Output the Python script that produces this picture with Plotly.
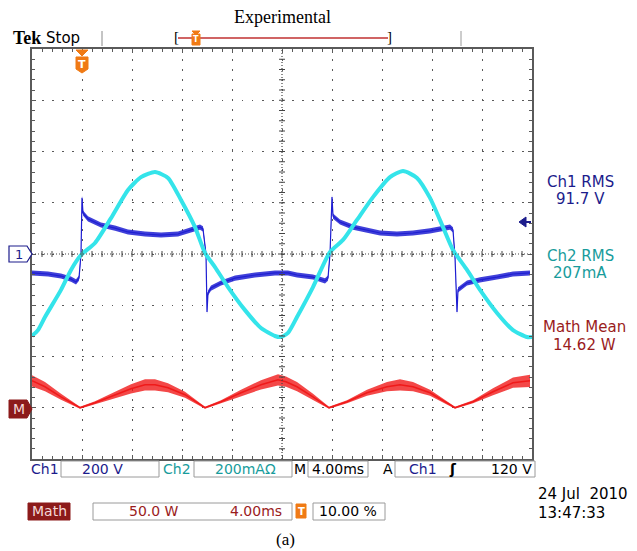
import plotly.graph_objects as go

# Ch2 (current, cyan) : time in ms, current in mA
ch2_t = [0.00, 0.48, 1.04, 2.32, 3.12, 3.92, 5.04, 6.32, 7.68, 8.72, 9.84, 10.88, 11.92, 13.04,
         13.84, 14.64, 15.68, 17.04, 18.32, 19.44, 19.92, 20.48, 21.20, 22.48, 23.84, 24.88,
         26.00, 27.28, 28.64, 29.68, 30.80, 31.84, 32.88, 33.68, 34.80, 35.84, 37.20, 38.48,
         39.60, 40.00]
ch2_ma = [-320, -297, -246, -140, -62, -4, 43, 140, 250, 300, 320, 297, 211, 105,
          4, -51, -129, -219, -289, -320, -324, -308, -246, -129, 8, 55,
          133, 222, 300, 324, 297, 219, 105, 16, -62, -140, -230, -297,
          -324, -324]

# Ch1 (voltage, blue) : time in ms, voltage in V
ch1_t = [0.00, 1.28, 2.32, 3.12, 3.52, 3.76, 3.92, 4.00, 4.08, 4.48, 5.52, 6.64, 7.68, 9.04,
         10.32, 11.68, 12.72, 13.44, 13.68, 13.92, 14.00, 14.08, 14.32, 15.12, 16.24, 17.84,
         19.44, 20.48, 21.20, 22.48, 23.44, 23.68, 23.84, 24.00, 24.08, 24.64, 25.68, 26.80,
         27.84, 29.20, 30.48, 31.84, 32.88, 33.44, 33.68, 33.84, 34.00, 34.08, 34.80, 35.84,
         37.20, 38.48, 39.84]
ch1_v = [-74, -78, -86, -98, -109, -94, 0, 219, 160, 137, 113, 101, 86, 78,
         74, 78, 94, 105, 98, 0, -226, -152, -133, -113, -94, -82,
         -74, -74, -82, -90, -105, -94, 0, 222, 148, 125, 105, 94,
         82, 78, 82, 90, 101, 105, 94, -12, -226, -140, -113, -101,
         -90, -78, -74]

# Math (power, red) : time in ms, power in W, and half-height of its ripple band in W
math_t = [0.00, 1.04, 2.32, 3.84, 5.04, 6.64, 7.92, 9.04, 9.84, 10.88, 12.24, 13.84, 15.12,
          16.72, 18.32, 19.68, 20.32, 21.20, 22.48, 23.76, 25.20, 26.80, 28.40, 29.44,
          30.48, 31.84, 33.84, 35.28, 36.88, 38.48, 39.84]
math_w = [26.3, 20.5, 10.7, 0.0, 4.9, 12.7, 18.5, 22.4, 22.4, 19.5, 12.7, 0.0, 5.9,
          14.6, 22.4, 27.3, 25.4, 20.5, 10.7, 0.0, 5.9, 14.6, 20.5, 22.4,
          20.5, 14.6, 0.0, 5.9, 15.6, 24.4, 26.3]
math_ripple = [5.5, 4.5, 3, 1, 1.5, 3, 4.5, 5.5, 5.5, 4.5, 3, 1, 1.5,
               3, 4.5, 5.5, 5, 4.5, 3, 1, 1.5, 3, 4.5, 5.5,
               4.5, 3, 1, 1.5, 3.5, 5, 6]

# scope settings / readouts
ch1_scale_v = 200      # V/div
ch2_scale_ma = 200     # mA/div
math_scale_w = 50      # W/div
time_scale_ms = 4.0    # ms/div
math_offset_div = -3   # math ground position in divisions
ch1_noise_v = 10       # half height of the noise band on Ch1

readouts = [("Ch1 RMS", "91.7 V"), ("Ch2 RMS", "207mA"), ("Math Mean", "14.62 W")]

# ---------------- styling ----------------
SCOPE = "DejaVu Sans, Verdana, sans-serif"
SERIF = "Liberation Serif, Times New Roman, serif"
NAVY = "#1c1c8c"
TEAL = "#189c9c"
DRED = "#9a1c1c"
ORANGE = "#f07a14"
BLUE = "#1e1ed2"
CYAN = "#34e4ea"
RED = "#f01a1a"
GRID = "#5a5a5a"

OFF = 8                       # default page (body) margin of the html page
L, R, T, B = 32, 532, 49, 459  # graticule edges in page pixels
W, H = 637, 551


def px(x):
    return (x - L) / (R - L)


def py(y):
    return (B - y) / (B - T)


ndiv_x, ndiv_y = 10, 8
xmax = ndiv_x * time_scale_ms
vmax = ndiv_y / 2 * ch1_scale_v
imax = ndiv_y / 2 * ch2_scale_ma
wmin = (-ndiv_y / 2 - math_offset_div) * math_scale_w
wmax = (ndiv_y / 2 - math_offset_div) * math_scale_w

fig = go.Figure()

# Ch2 current
fig.add_trace(go.Scatter(x=ch2_t, y=ch2_ma, yaxis="y2", mode="lines",
                         line=dict(color=CYAN, width=4, shape="spline", smoothing=0.6),
                         hoverinfo="skip", showlegend=False))

# Ch1 voltage: noise band + center line
fig.add_trace(go.Scatter(x=ch1_t, y=[v + ch1_noise_v for v in ch1_v], mode="lines",
                         line=dict(width=0, color=BLUE), hoverinfo="skip", showlegend=False))
fig.add_trace(go.Scatter(x=ch1_t, y=[v - ch1_noise_v for v in ch1_v], mode="lines",
                         line=dict(width=0, color=BLUE), fill="tonexty",
                         fillcolor="rgba(30,30,210,0.85)", hoverinfo="skip", showlegend=False))
fig.add_trace(go.Scatter(x=ch1_t, y=ch1_v, mode="lines",
                         line=dict(color=BLUE, width=1.2), hoverinfo="skip", showlegend=False))

# Math power: ripple band + center line
fig.add_trace(go.Scatter(x=math_t, y=[w + r for w, r in zip(math_w, math_ripple)], yaxis="y3",
                         mode="lines", line=dict(width=0, color=RED), hoverinfo="skip",
                         showlegend=False))
fig.add_trace(go.Scatter(x=math_t, y=[w - r for w, r in zip(math_w, math_ripple)], yaxis="y3",
                         mode="lines", line=dict(width=0, color=RED), fill="tonexty",
                         fillcolor="rgba(240,26,26,0.8)", hoverinfo="skip", showlegend=False))
fig.add_trace(go.Scatter(x=math_t, y=math_w, yaxis="y3", mode="lines",
                         line=dict(color=RED, width=1.5), hoverinfo="skip", showlegend=False))

axis_common = dict(showticklabels=False, zeroline=False, showgrid=True,
                   gridcolor=GRID, gridwidth=1.3, griddash="1.5px,8.5px",
                   showline=True, linecolor="#5a5a5a", linewidth=2, mirror="ticks",
                   ticks="inside", ticklen=4, tickcolor="#5a5a5a", tickwidth=1)

fig.update_layout(
    width=W - OFF, height=H - OFF,
    margin=dict(l=L - OFF, r=W - R, t=T - OFF, b=H - B, pad=0),
    paper_bgcolor="white", plot_bgcolor="white",
    xaxis=dict(range=[0, xmax], dtick=time_scale_ms,
               minor=dict(dtick=time_scale_ms / 5, ticks="inside", ticklen=3,
                          tickcolor="#5a5a5a", showgrid=False),
               **axis_common),
    yaxis=dict(range=[-vmax, vmax], dtick=ch1_scale_v,
               minor=dict(dtick=ch1_scale_v / 5, ticks="inside", ticklen=3,
                          tickcolor="#5a5a5a", showgrid=False),
               **axis_common),
    yaxis2=dict(range=[-imax, imax], overlaying="y", visible=False),
    yaxis3=dict(range=[wmin, wmax], overlaying="y", visible=False),
    showlegend=False,
)

shapes = []
# centre graticule lines (dense dots) with cross ticks
shapes.append(dict(type="line", xref="x", yref="y", x0=0, x1=xmax, y0=0, y1=0,
                   line=dict(color="#444", width=1.2, dash="1px,2px")))
shapes.append(dict(type="line", xref="x", yref="y", x0=xmax / 2, x1=xmax / 2, y0=-vmax, y1=vmax,
                   line=dict(color="#444", width=1.2, dash="1px,2px")))
tick_v = ch1_scale_v / (B - T) * ndiv_y * 3
tick_t = time_scale_ms / (R - L) * ndiv_x * 3
for k in range(1, ndiv_x * 5):
    xt = k * time_scale_ms / 5
    shapes.append(dict(type="line", xref="x", yref="y", x0=xt, x1=xt, y0=-tick_v, y1=tick_v,
                       line=dict(color="#444", width=1)))
for k in range(1, ndiv_y * 5):
    yt = -vmax + k * ch1_scale_v / 5
    shapes.append(dict(type="line", xref="x", yref="y", x0=xmax / 2 - tick_t, x1=xmax / 2 + tick_t,
                       y0=yt, y1=yt, line=dict(color="#444", width=1)))


def pline(x0, y0, x1, y1, color, width=1):
    shapes.append(dict(type="line", xref="paper", yref="paper", x0=px(x0), y0=py(y0),
                       x1=px(x1), y1=py(y1), line=dict(color=color, width=width)))


def ppath(pts, fill, line_color, width=1):
    d = "M " + " L ".join(f"{px(a):.5f},{py(b):.5f}" for a, b in pts) + " Z"
    shapes.append(dict(type="path", xref="paper", yref="paper", path=d,
                       fillcolor=fill, line=dict(color=line_color, width=width)))


def prect(x0, y0, x1, y1, fill="rgba(0,0,0,0)", line_color="#9a9a9a", width=1):
    shapes.append(dict(type="rect", xref="paper", yref="paper", x0=px(x0), y0=py(y0),
                       x1=px(x1), y1=py(y1), fillcolor=fill,
                       line=dict(color=line_color, width=width)))


# top status bar
pline(102, 31, 102, 46, "#8a8a8a", 1)
pline(461, 31, 461, 46, "#9a9a9a", 1)
pline(178, 38, 388, 38, "#c03030", 1.5)
ppath([(192, 31), (200, 31), (196, 35)], ORANGE, ORANGE)
prect(192, 34, 200, 45, ORANGE, ORANGE)
# trigger position marker
ppath([(76, 50), (88, 50), (82, 56)], ORANGE, ORANGE)
ppath([(76, 57), (88, 57), (88, 69), (82, 73), (76, 69)], ORANGE, ORANGE)
# channel markers
ppath([(9, 246), (27, 246), (32, 254), (27, 262), (9, 262)], "white", NAVY, 1.2)
ppath([(9, 400), (27, 400), (32, 409), (27, 418), (9, 418)], "#8c1a1a", "#8c1a1a", 1)
# trigger level arrow
ppath([(519, 222), (526, 217), (526, 227)], NAVY, NAVY)
pline(525, 222, 531, 222, NAVY, 2)
# bottom readout boxes
prect(61, 461, 159, 477)
prect(194, 461, 292, 477)
prect(308, 461, 368, 477)
prect(395, 461, 535, 477)
prect(28, 503, 70, 520, "#8c1a1a", "#8c1a1a")
prect(93, 503, 292, 520)
prect(296, 504, 306, 518, ORANGE, ORANGE)
prect(313, 503, 385, 520)

ann = []


def txt(s, x, y, size=14, color="black", family=SCOPE, xanchor="center"):
    ann.append(dict(text=s, x=px(x), y=py(y), xref="paper", yref="paper", showarrow=False,
                    xanchor=xanchor, yanchor="middle",
                    font=dict(size=size, color=color, family=family)))


txt("Experimental", 282, 17, 18, "black", SERIF)
txt("<b>Tek</b>", 27, 38, 18, "black", SERIF)
txt("Stop", 63, 38, 15, "black", "DejaVu Sans, sans-serif")
txt("[", 176, 37, 15, "black", SERIF)
txt("]", 389, 37, 15, "black", SERIF)
txt("<b>T</b>", 196, 40, 8, "white", "DejaVu Sans")
txt("<b>T</b>", 82, 64, 11, "white", "DejaVu Sans")
txt("1", 19, 254, 13, NAVY, "DejaVu Sans")
txt("M", 19, 409, 14, "#f4d8d8", "DejaVu Sans")

colors = [NAVY, TEAL, DRED]
ys = [(182, 199), (256, 273), (327, 345)]
xs = [580, 580, 584]
for (a, b), c, (y1, y2), xc in zip(readouts, colors, ys, xs):
    txt(a, xc, y1, 15, c)
    txt(b, xc, y2, 15, c)

txt("Ch1", 45, 469, 14, NAVY)
txt(f"{ch1_scale_v} V", 102, 469, 14, NAVY)
txt("Ch2", 177, 469, 14, TEAL)
txt(f"{ch2_scale_ma}mAΩ", 245, 469, 14, TEAL)
txt("M", 300, 469, 14, "black")
txt(f"{time_scale_ms:.2f}ms", 338, 469, 14, "black")
txt("A", 388, 469, 14, "black")
txt("Ch1", 423, 469, 14, NAVY)
txt("<b>ʃ</b>", 453, 469, 14, "black")
txt("120 V", 511, 469, 14, "black")

txt("Math", 49, 511, 14, "#f4d8d8")
txt(f"{math_scale_w:.1f} W", 154, 511, 14, DRED)
txt(f"{time_scale_ms:.2f}ms", 256, 511, 14, DRED)
txt("<b>T</b>", 301, 511, 10, "white", "DejaVu Sans")
txt("10.00 %", 348, 511, 14, "black")
txt("24 Jul\u00a0\u00a02010", 536, 494, 15, "black", xanchor="left")
txt("13:47:33", 536, 513, 15, "black", xanchor="left")
txt("(a)", 285, 539, 17, "black", SERIF)

fig.update_layout(shapes=shapes, annotations=ann)
fig.write_html("out.html")
